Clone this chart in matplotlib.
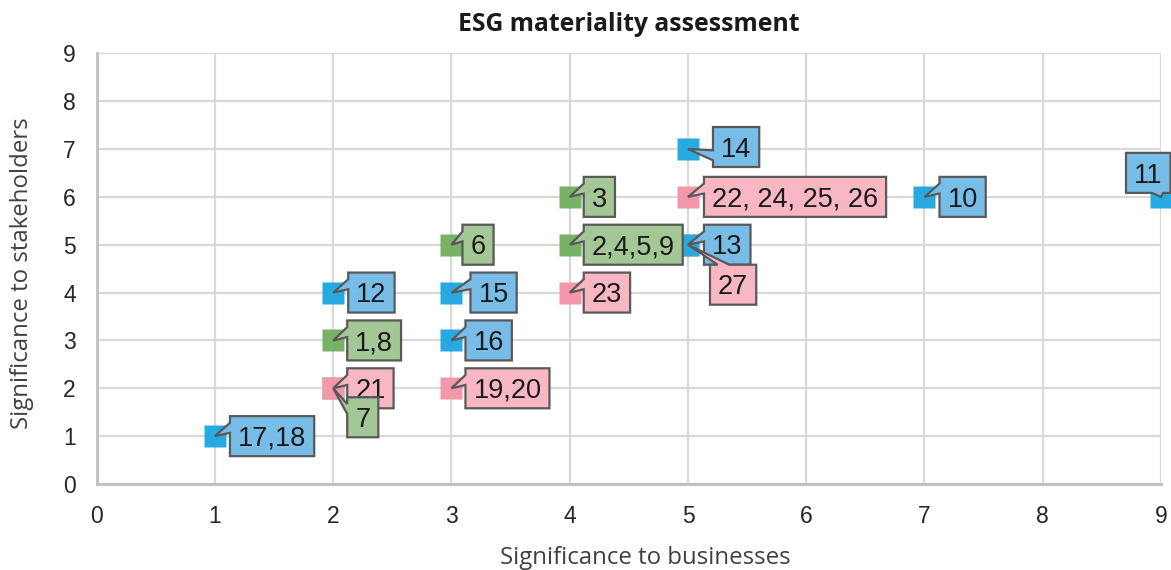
import matplotlib
matplotlib.use("Agg")
import matplotlib.pyplot as plt
import matplotlib.transforms as mtransforms
from matplotlib.patches import Polygon

# data: (x = significance to businesses, y = significance to stakeholders)
blue_x = [1, 2, 3, 3, 5, 5, 7, 9]
blue_y = [1, 4, 4, 3, 7, 5, 6, 6]
blue_labels = ["17,18", "12", "15", "16", "14", "13", "10", "11"]

green_x = [2, 2, 3, 4, 4]
green_y = [3, 2, 5, 6, 5]
green_labels = ["1,8", "7", "6", "3", "2,4,5,9"]

pink_x = [2, 3, 4, 5, 5]
pink_y = [2, 2, 4, 6, 5]
pink_labels = ["21", "19,20", "23", "22, 24, 25, 26", "27"]

ticks = list(range(0, 10))

# callout placement (pixels): box left edge from the point, box centre height
default_off = (14, 0)
label_off = {"17,18": (15, 0), "12": (15, 0), "15": (19, 0), "14": (25, 2),
             "6": (11, 0), "27": (22, -40), "7": (14, -29), "10": (15, 0),
             "11": (-35, 24), "13": (16, 0), "22, 24, 25, 26": (16, 0)}

LABEL_FONT = "Liberation Sans"
UI_FONT = "Open Sans"
EDGE = "#595959"

fig = plt.figure(figsize=(11.71, 5.70), dpi=100)
ax = fig.add_axes([96.7 / 1171, 1 - 484 / 570, (1161 - 96.7) / 1171, 430.7 / 570])

ax.set_xlim(0, 9)
ax.set_ylim(0, 9)
ax.set_xticks(ticks)
ax.set_yticks(ticks)
ax.grid(color="#d9d9d9", lw=1.6)
ax.set_axisbelow(True)
for s in ["top", "right"]:
    ax.spines[s].set_visible(False)
for s in ["left", "bottom"]:
    ax.spines[s].set_color("#bfbfbf")
    ax.spines[s].set_linewidth(2)
ax.tick_params(length=0, pad=15, labelsize=16.5, labelcolor="#262626")
for lab in ax.get_xticklabels() + ax.get_yticklabels():
    lab.set_fontfamily(LABEL_FONT)

fig.text(629 / 1171, 1 - 31 / 570, "ESG materiality assessment", ha="center",
         va="baseline", fontsize=17.8, fontweight="bold", family=UI_FONT, color="#1a1a1a")
fig.text(645 / 1171, 1 - 564 / 570, "Significance to businesses", ha="center",
         va="baseline", fontsize=17.3, family=UI_FONT, color="#404040")
fig.text(22 / 1171, 1 - 273 / 570, "Significance to stakeholders", ha="center",
         va="center", rotation=90, fontsize=17.3, family=UI_FONT, color="#404040")

series = [
    (green_x, green_y, green_labels, "#78b265", "#a3c795", 9),
    (pink_x, pink_y, pink_labels, "#f497aa", "#f8b7c3", 7),
    (blue_x, blue_y, blue_labels, "#29a9e1", "#78bde8", 5),
]

# markers first (green, pink, blue)
for i, (xs, ys, _, mc, _, _) in enumerate(series):
    ax.plot(xs, ys, "s", ms=16.5, color=mc, mec="none", clip_on=False, zorder=3 + i * 0.1)

fig.canvas.draw()
renderer = fig.canvas.get_renderer()

fs = 19.5
cap = 0.716 * fs * 100 / 72
padx = 8
box_h = 40


def callout(x, y, text, fc, z):
    trans = mtransforms.IdentityTransform() + mtransforms.ScaledTranslation(x, y, ax.transData)
    dx, dy = label_off.get(text, default_off)
    t = ax.text(dx + padx, dy - cap / 2, text, transform=trans, ha="left", va="baseline",
                fontsize=fs, family=LABEL_FONT, color="#1a1a1a", zorder=z + 1, clip_on=False)
    tw = t.get_window_extent(renderer).width
    w = tw + 2 * padx
    h = box_h
    l, r = dx, dx + w
    b, tp = dy - h / 2, dy + h / 2
    hc, vc = l + w / 2, b + h / 2
    ex, ey = -hc, vc  # tip relative to centre, ey > 0 means below
    dz = abs(ey) - abs(ex * h / w)
    tip = (0, 0)
    if dz > 0:
        f1, f2 = (7 / 12, 10 / 12) if ex > 0 else (2 / 12, 5 / 12)
        x1, x2 = l + w * f1, l + w * f2
        if ey > 0:
            pts = [(l, tp), (r, tp), (r, b), (x2, b), tip, (x1, b), (l, b)]
        else:
            pts = [(l, b), (l, tp), (x1, tp), tip, (x2, tp), (r, tp), (r, b)]
    else:
        f1, f2 = (7 / 12, 10 / 12) if ey > 0 else (2 / 12, 5 / 12)
        y1, y2 = tp - h * f1, tp - h * f2
        if ex < 0:
            pts = [(l, tp), (r, tp), (r, b), (l, b), (l, y2), tip, (l, y1)]
        else:
            pts = [(l, tp), (r, tp), (r, y1), tip, (r, y2), (r, b), (l, b)]
    poly = Polygon(pts, closed=True, transform=trans, fc=fc, ec=EDGE, lw=1.6,
                   joinstyle="miter", zorder=z, clip_on=False)
    ax.add_patch(poly)


# callouts: blue, pink, green on top
for xs, ys, labels, _, bc, z in reversed(series):
    for x, y, lab in zip(xs, ys, labels):
        callout(x, y, lab, bc, z)

fig.savefig("out.png", dpi=100)
